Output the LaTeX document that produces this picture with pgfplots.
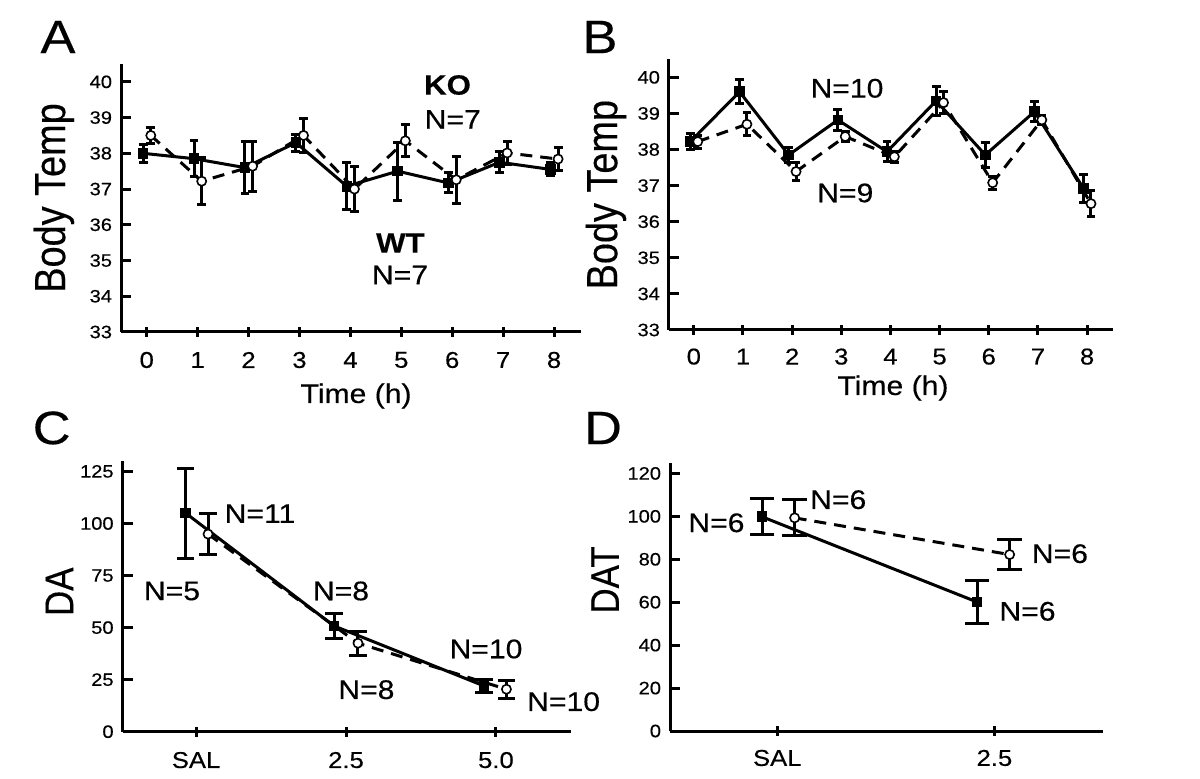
\documentclass[border=0pt]{standalone}
\usepackage{fontspec}
\setmainfont{Liberation Sans}[FakeStretch=1.12, FakeBold=0.35]
\newfontfamily\plainfont{Liberation Sans}[FakeBold=0.35]
\usepackage{graphicx}
\usepackage{pgfplots}
\pgfplotsset{compat=1.18}
\newcommand{\ylab}[2]{\plainfont\fontsize{#1}{#1}\selectfont\scalebox{1}[1.15]{#2}}
\pgfplotsset{
  panel/.style={
    scale only axis,
    axis x line=bottom, axis y line=left,
    axis line style={-, line width=1.5bp},
    every tick/.style={black, line width=1.5bp},
    major tick length=5bp,
    xtick align=center, ytick align=inside,
    /pgf/number format/assume math mode=true,
    yticklabel style={font=\fontsize{9}{9}\selectfont, anchor=east, inner sep=0pt, xshift=-4.3bp},
    xticklabel style={font=\fontsize{11.5}{11.5}\selectfont, anchor=center},
    clip=false,
  },
  wt/.style={black, line width=1.5bp, solid, mark=square*, mark size=2.4bp,
    mark options={solid, fill=black, line width=0.5bp},
    error bars/y dir=both, error bars/y explicit,
    error bars/error bar style={line width=1.5bp, solid},
    error bars/error mark options={line width=1.5bp, mark size=#1, solid, rotate=90}},
  ko/.style={black, line width=1.5bp, dash pattern=on 6bp off 4bp, mark=*, mark size=2.3bp,
    mark options={solid, fill=white, line width=0.8bp},
    error bars/y dir=both, error bars/y explicit,
    error bars/error bar style={line width=1.5bp, solid},
    error bars/error mark options={line width=1.5bp, mark size=#1, solid, rotate=90}},
}
\begin{document}
\begin{tikzpicture}
\path[use as bounding box] (0,0) rectangle (600bp,389.5bp);

% ---------------- Panel A ----------------
\begin{axis}[panel, at={(60.5bp,223.5bp)}, anchor=south west,
  width=230bp, height=134bp,
  xmin=-0.505, xmax=8.53, ymin=33, ymax=40.5,
  xtick={0,...,8}, ytick={33,...,40},
  xticklabel style={yshift=-11.5bp},
  ylabel={\ylab{19}{Body Temp}},
  ylabel style={at={(axis description cs:-0.146,0.5)}, anchor=center},
  xlabel={\fontsize{13.5}{13.5}\selectfont Time (h)},
  xlabel style={at={(axis description cs:0.511,0)}, anchor=center, yshift=-32bp},
]
\addplot[wt=2.2bp] coordinates {
 (-0.07,38.0) +- (0,0.25)
 (0.93,37.85) +- (0,0.5)
 (1.93,37.6) +- (0,0.73)
 (2.93,38.3) +- (0,0.24)
 (3.93,37.08) +- (0,0.65)
 (4.93,37.5) +- (0,0.81)
 (5.93,37.17) +- (0,0.28)
 (6.93,37.75) +- (0,0.3)
 (7.93,37.55) +- (0,0.18)
};
\addplot[ko=2.2bp] coordinates {
 (0.08,38.5) +- (0,0.23)
 (1.08,37.22) +- (0,0.66)
 (2.08,37.64) +- (0,0.7)
 (3.08,38.5) +- (0,0.47)
 (4.08,37.0) +- (0,0.63)
 (5.08,38.35) +- (0,0.45)
 (6.08,37.26) +- (0,0.66)
 (7.08,38.01) +- (0,0.33)
 (8.08,37.84) +- (0,0.32)
};
\end{axis}

% ---------------- Panel B ----------------
\begin{axis}[panel, at={(334.45bp,224.5bp)}, anchor=south west,
  width=221.85bp, height=135.35bp,
  xmin=-0.507, xmax=8.52, ymin=33, ymax=40.5,
  xtick={0,...,8}, ytick={33,...,40},
  xticklabel style={yshift=-10.8bp},
  ylabel={\ylab{19}{Body Temp}},
  ylabel style={at={(axis description cs:-0.142,0.5)}, anchor=center},
  xlabel={\fontsize{13.5}{13.5}\selectfont Time (h)},
  xlabel style={at={(axis description cs:0.505,0)}, anchor=center, yshift=-29bp},
]
\addplot[wt=2.2bp] coordinates {
 (-0.07,38.22) +- (0,0.22)
 (0.93,39.6) +- (0,0.33)
 (1.93,37.85) +- (0,0.2)
 (2.93,38.82) +- (0,0.3)
 (3.93,37.94) +- (0,0.27)
 (4.93,39.35) +- (0,0.4)
 (5.93,37.85) +- (0,0.35)
 (6.93,39.05) +- (0,0.28)
 (7.93,36.92) +- (0,0.38)
};
\addplot[ko=2.2bp] coordinates {
 (0.08,38.22) +- (0,0.18)
 (1.08,38.7) +- (0,0.32)
 (2.08,37.39) +- (0,0.24)
 (3.08,38.36) +- (0,0.15)
 (4.08,37.8) +- (0,0.15)
 (5.08,39.3) +- (0,0.3)
 (6.08,37.08) +- (0,0.18)
 (7.08,38.82) +- (0,0.12)
 (8.08,36.5) +- (0,0.36)
};
\end{axis}

% ---------------- Panel C ----------------
\begin{axis}[panel, at={(61.3bp,23.65bp)}, anchor=south west,
  width=224.15bp, height=135.35bp,
  xmin=-0.49, xmax=2.5, ymin=0, ymax=130,
  xtick={0,1,2}, xticklabels={SAL,2.5,5.0},
  ytick={0,25,...,125},
  xticklabel style={yshift=-11.7bp},
  ylabel={\ylab{17.5}{DA}},
  ylabel style={at={(axis description cs:-0.141,0.517)}, anchor=center},
]
\addplot[wt=4.3bp] coordinates {
 (-0.07,105) +- (0,21.6)
 (0.92,50.8) +- (0,5.9)
 (1.92,22) +- (0,3.3)
};
\addplot[ko=4.3bp] coordinates {
 (0.08,94.9) +- (0,9.8)
 (1.08,42.5) +- (0,5.8)
 (2.07,20.4) +- (0,4.3)
};
\end{axis}

% ---------------- Panel D ----------------
\begin{axis}[panel, at={(335bp,24bp)}, anchor=south west,
  width=216.5bp, height=134.15bp,
  xmin=-0.494, xmax=1.5, ymin=0, ymax=125,
  xtick={0,1}, xticklabels={SAL,2.5},
  ytick={0,20,...,120},
  xticklabel style={yshift=-11bp},
  ylabel={\ylab{17.5}{DAT}},
  ylabel style={at={(axis description cs:-0.15,0.563)}, anchor=center},
]
\addplot[wt=6.2bp] coordinates {
 (-0.07,99.8) +- (0,8.4)
 (0.92,60.1) +- (0,10)
};
\addplot[ko=6.2bp] coordinates {
 (0.08,99.3) +- (0,8.4)
 (1.07,82.2) +- (0,7)
};
\end{axis}

% ---------------- Text annotations ----------------
\begin{scope}[every node/.style={inner sep=0pt, anchor=center}]
\node[font=\fontsize{23.5}{23.5}\selectfont] at (29bp,371bp) {A};
\node[font=\fontsize{23.5}{23.5}\selectfont] at (300bp,371bp) {B};
\node[font=\fontsize{23.5}{23.5}\selectfont] at (25.85bp,175.5bp) {C};
\node[font=\fontsize{23.5}{23.5}\selectfont] at (301.5bp,175.5bp) {D};
% A
\node[font=\fontsize{14}{14}\selectfont\bfseries] at (223.75bp,347bp) {KO};
\node[font=\fontsize{13.5}{13.5}\selectfont] at (226.35bp,329.75bp) {N=7};
\node[font=\fontsize{14}{14}\selectfont\bfseries] at (200.2bp,268bp) {WT};
\node[font=\fontsize{13.5}{13.5}\selectfont] at (200bp,252bp) {N=7};
% B
\node[font=\fontsize{13.5}{13.5}\selectfont] at (423.5bp,345.35bp) {N=10};
\node[font=\fontsize{13.5}{13.5}\selectfont] at (422.65bp,293bp) {N=9};
% C
\node[font=\fontsize{13.5}{13.5}\selectfont] at (86bp,94bp) {N=5};
\node[font=\fontsize{13.5}{13.5}\selectfont] at (130bp,132.65bp) {N=11};
\node[font=\fontsize{13.5}{13.5}\selectfont] at (170.5bp,94bp) {N=8};
\node[font=\fontsize{13.5}{13.5}\selectfont] at (183.2bp,44.65bp) {N=8};
\node[font=\fontsize{13.5}{13.5}\selectfont] at (243bp,65bp) {N=10};
\node[font=\fontsize{13.5}{13.5}\selectfont] at (281.8bp,38.65bp) {N=10};
% D
\node[font=\fontsize{13.5}{13.5}\selectfont] at (358.2bp,128.1bp) {N=6};
\node[font=\fontsize{13.5}{13.5}\selectfont] at (419.1bp,139.65bp) {N=6};
\node[font=\fontsize{13.5}{13.5}\selectfont] at (529.95bp,112.65bp) {N=6};
\node[font=\fontsize{13.5}{13.5}\selectfont] at (513.75bp,83.85bp) {N=6};
\end{scope}
\end{tikzpicture}
\end{document}
